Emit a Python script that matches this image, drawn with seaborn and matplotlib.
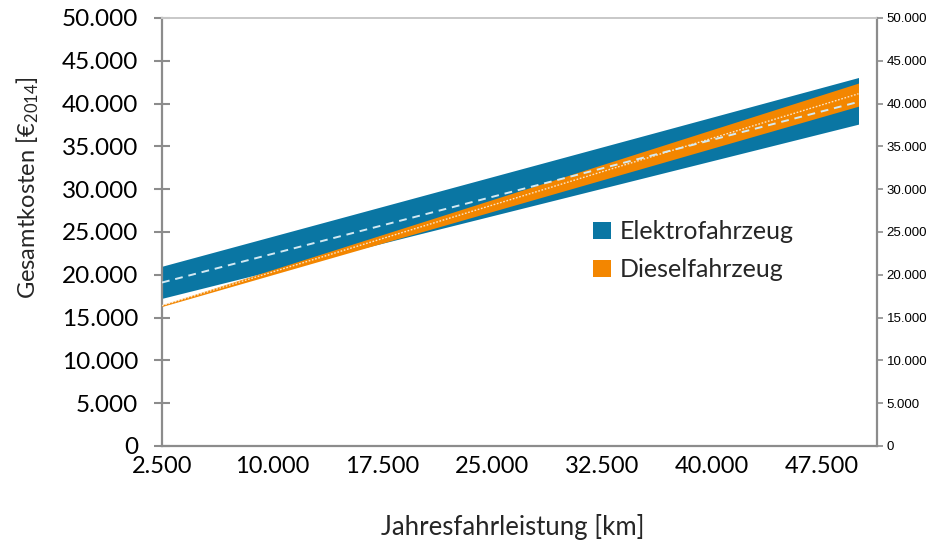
import matplotlib
matplotlib.use("Agg")
import matplotlib.pyplot as plt
import matplotlib.ticker as mticker
from matplotlib.patches import Patch
import numpy as np
import pandas as pd
import seaborn as sns

# Annual mileage (km) at the ends of the computed range
km = [2500, 50000]

# Total cost of ownership, EUR (2014), lower / upper bound and central estimate
elektro_low = [17250, 37600]
elektro_high = [21000, 43050]
elektro_mid = [19100, 40200]

diesel_low = [16300, 39700]
diesel_high = [16500, 42400]
diesel_mid = [16400, 41150]

labels = ["Elektrofahrzeug", "Dieselfahrzeug"]
x_tick_labels = ["2.500", "10.000", "17.500", "25.000", "32.500", "40.000", "47.500"]

BLUE = "#0a76a3"
ORANGE = "#f38600"
AXIS_GREY = "#8c8c8c"

sns.set_theme(style="white")
plt.rcParams["font.family"] = ["Lato", "DejaVu Sans"]
plt.rcParams["mathtext.default"] = "regular"

W, H = 935, 547
fig = plt.figure(figsize=(W / 100, H / 100), dpi=100)
left, right, top, bottom = 162, 877, 18, 446
ax = fig.add_axes([left / W, 1 - bottom / H, (right - left) / W, (bottom - top) / H])

df = pd.DataFrame({
    "km": km + km,
    "kosten": elektro_mid + diesel_mid,
    "fahrzeug": [labels[0]] * len(km) + [labels[1]] * len(km),
})

ax.fill_between(km, elektro_low, elektro_high, color=BLUE, lw=0, zorder=2)
ax.fill_between(km, diesel_low, diesel_high, color=ORANGE, lw=0, zorder=3)

sns.lineplot(data=df[df.fahrzeug == labels[1]], x="km", y="kosten", ax=ax,
             color="#fbe3c4", lw=1.0, linestyle=(0, (1.2, 1.2)), zorder=4, legend=False)
sns.lineplot(data=df[df.fahrzeug == labels[0]], x="km", y="kosten", ax=ax,
             color="#d3e9f2", lw=1.4, linestyle=(0, (4, 3)), zorder=5, legend=False)

x_max = 2500 + (right - left) * 47500 / (858.5 - left)
ax.set_xlim(2500, x_max)
ax.set_ylim(0, 50000)

# x axis: a tick every 2.500 km, a label every 7.500 km
ax.xaxis.set_major_locator(mticker.FixedLocator(np.arange(2500, 47501, 7500)))
ax.set_xticklabels(x_tick_labels)
ax.xaxis.set_minor_locator(mticker.FixedLocator(np.arange(2500, 50001, 2500)))
ax.tick_params(axis="x", which="both", direction="inout", length=11, width=1.5,
               color=AXIS_GREY, labelsize=17, pad=2, labelcolor="black")

ax.yaxis.set_major_locator(mticker.MultipleLocator(5000))
fmt = mticker.FuncFormatter(lambda v, p: f"{int(v):,}".replace(",", "."))
ax.yaxis.set_major_formatter(fmt)
ax.tick_params(axis="y", direction="inout", length=12, width=1.5,
               color=AXIS_GREY, labelsize=17.5, pad=11, labelcolor="black")

for side in ["left", "bottom", "right"]:
    ax.spines[side].set_color(AXIS_GREY)
    ax.spines[side].set_linewidth(1.6)
ax.spines["top"].set_color("#c8c8c8")
ax.spines["top"].set_linewidth(1.4)
ax.set_xlabel("")
ax.set_ylabel("")

# secondary value axis on the right
ax2 = ax.twinx()
ax2.set_ylim(0, 50000)
ax2.yaxis.set_major_locator(mticker.MultipleLocator(5000))
ax2.yaxis.set_major_formatter(fmt)
ax2.tick_params(axis="y", direction="out", length=4, width=1.2, color=AXIS_GREY,
                labelsize=9.5, pad=3, labelcolor="black")
for lab in ax2.get_yticklabels():
    lab.set_family(["Liberation Sans", "DejaVu Sans"])
for s in ax2.spines.values():
    s.set_visible(False)
ax2.grid(False)

fig.text(513 / W, 1 - 527 / H, "Jahresfahrleistung [km]", ha="center", va="center",
         fontsize=18.5)
fig.text(28 / W, 1 - 188 / H, "Gesamtkosten [€$_{2014}$]", ha="center", va="center",
         rotation=90, fontsize=17)

handles = [Patch(facecolor=BLUE, edgecolor="none"), Patch(facecolor=ORANGE, edgecolor="none")]
fig.legend(handles, labels, loc="upper left", bbox_to_anchor=(593 / W, 1 - 220 / H),
           frameon=False, fontsize=18, handlelength=0.7, handleheight=0.7,
           handletextpad=0.35, labelspacing=0.6, borderaxespad=0, borderpad=0)

fig.savefig("out.png", dpi=100)
